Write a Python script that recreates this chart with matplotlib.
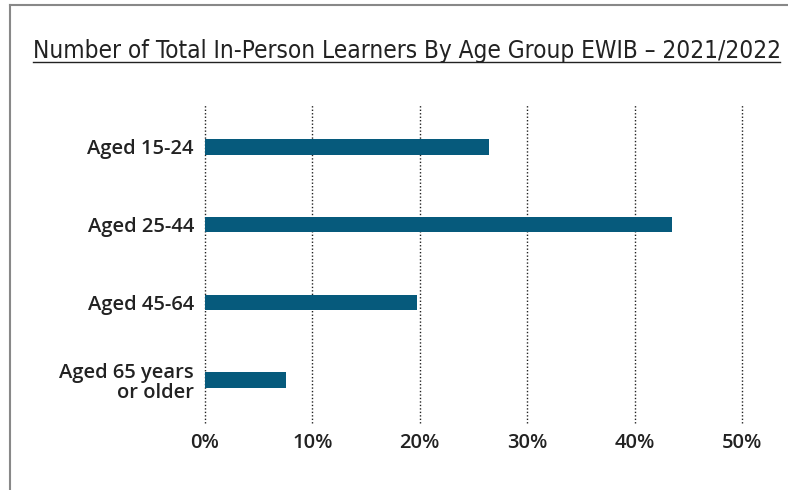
import matplotlib
matplotlib.use("Agg")
import matplotlib.pyplot as plt
from matplotlib.lines import Line2D
from matplotlib import font_manager

categories = ["Aged 15-24", "Aged 25-44", "Aged 45-64", "Aged 65 years\nor older"]
values = [26.4, 43.5, 19.7, 7.5]
xticks = [0, 10, 20, 30, 40, 50]
xticklabels = ["0%", "10%", "20%", "30%", "40%", "50%"]
title = "Number of Total In-Person Learners By Age Group EWIB \u2013 2021/2022"

names = {f.name for f in font_manager.fontManager.ttflist}
title_family = "Liberation Sans Narrow" if "Liberation Sans Narrow" in names else "DejaVu Sans"

W, H = 788, 490
fig = plt.figure(figsize=(W/100, H/100), dpi=100)
ax = fig.add_axes([205/W, 1-423/H, (742-205)/W, (423-104)/H])

ypos = list(range(len(categories)))
ax.barh(ypos, values, height=0.2, color="#065a7c", zorder=3)
ax.set_ylim(3.55, -0.55)
ax.set_xlim(0, 50)
ax.set_xticks(xticks)
ax.set_xticklabels(xticklabels)
ax.set_yticks(ypos)
ax.set_yticklabels(categories, ha="right", linespacing=1.05)
for x in xticks:
    ax.axvline(x, color="#222222", linestyle=(0, (1, 1.5)), linewidth=1.0, zorder=1, clip_on=False)
for s in ax.spines.values():
    s.set_visible(False)
ax.tick_params(axis="both", length=0, labelsize=14.5, colors="#222222")
ax.tick_params(axis="x", pad=7)
ax.tick_params(axis="y", pad=8)
for lbl in ax.get_xticklabels() + ax.get_yticklabels():
    lbl.set_family("Open Sans")
    lbl.set_weight("semibold")
    lbl.set_color("#222222")

t = fig.text(33/W, 1-51/H, title, fontsize=15.5, family=title_family,
             stretch="condensed", color="#222222", va="center", ha="left")
fig.canvas.draw()
bb = t.get_window_extent()
target = 780 - 33
if bb.width > 0:
    t.set_fontsize(15.5 * target / bb.width)
# underline
fig.add_artist(Line2D([33/W, 780/W], [1-62/H, 1-62/H], color="#222222", linewidth=1.0))
# border
fig.add_artist(Line2D([10/W, 10/W], [0, 1-5/H], color="#888888", linewidth=1.5))
fig.add_artist(Line2D([10/W, 1], [1-5/H, 1-5/H], color="#888888", linewidth=1.5))

fig.savefig("out.png", dpi=100)
